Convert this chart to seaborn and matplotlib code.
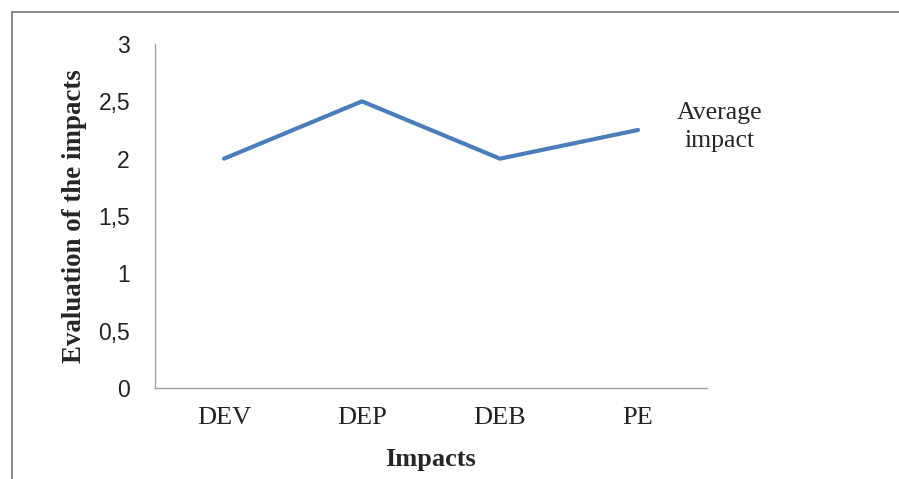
import matplotlib
matplotlib.use("Agg")
import matplotlib.pyplot as plt
import seaborn as sns
import pandas as pd
from matplotlib.lines import Line2D

categories = ["DEV", "DEP", "DEB", "PE"]
values = [2.0, 2.5, 2.0, 2.25]
series_name = "Average\nimpact"
yticks = [0, 0.5, 1, 1.5, 2, 2.5, 3]
ytick_labels = ["0", "0,5", "1", "1,5", "2", "2,5", "3"]

sns.set_style("white")
plt.rcParams['font.family'] = ['Liberation Serif', 'DejaVu Serif']

df = pd.DataFrame({"Impacts": categories, "Value": values, "Series": series_name})

W, H = 899, 479
fig = plt.figure(figsize=(W / 100, H / 100), dpi=100)
ax = fig.add_axes([155 / W, 1 - 388 / H, (707 - 155) / W, (388 - 44) / H])

sns.lineplot(data=df, x="Impacts", y="Value", hue="Series", palette=["#4A7EBB"],
             linewidth=3, ax=ax, sort=False)

ax.set_xlim(-0.5, 3.5)
ax.set_ylim(0, 3)
ax.set_yticks(yticks)
ax.set_yticklabels(ytick_labels, family=['Liberation Sans', 'DejaVu Sans'], fontsize=16.5)
for t in ax.get_xticklabels():
    t.set_fontsize(19)
    t.set_family(['Liberation Serif'])
ax.tick_params(axis='y', length=0, pad=18, colors='#222222')
ax.tick_params(axis='x', length=0, pad=14, colors='#222222')

for s in ["top", "right"]:
    ax.spines[s].set_visible(False)
for s in ["left", "bottom"]:
    ax.spines[s].set_color("#a0a0a0")
    ax.spines[s].set_linewidth(1.0)

ax.set_xlabel("Impacts", fontsize=19, fontweight='bold')
ax.set_ylabel("Evaluation of the impacts", fontsize=19.4, fontweight='bold')
ax.xaxis.set_label_coords(0.5, -60 / 344)
ax.yaxis.set_label_coords(-68 / 552, 0.5)

leg = ax.legend(loc='center', bbox_to_anchor=(720 / W, 1 - 127 / H), bbox_transform=fig.transFigure,
                frameon=False, handlelength=0, handletextpad=0, fontsize=18.5)
for h in leg.legend_handles:
    h.set_visible(False)
for t in leg.get_texts():
    t.set_multialignment('center')
    t.set_linespacing(1.35)

# outer border (partial frame)
fig.add_artist(Line2D([12 / W, 12 / W], [0, 1 - 12 / H], transform=fig.transFigure, color='#8c8c8c', lw=1.5))
fig.add_artist(Line2D([12 / W, 1], [1 - 12 / H, 1 - 12 / H], transform=fig.transFigure, color='#8c8c8c', lw=1.5))

fig.savefig("out.png", dpi=100)
